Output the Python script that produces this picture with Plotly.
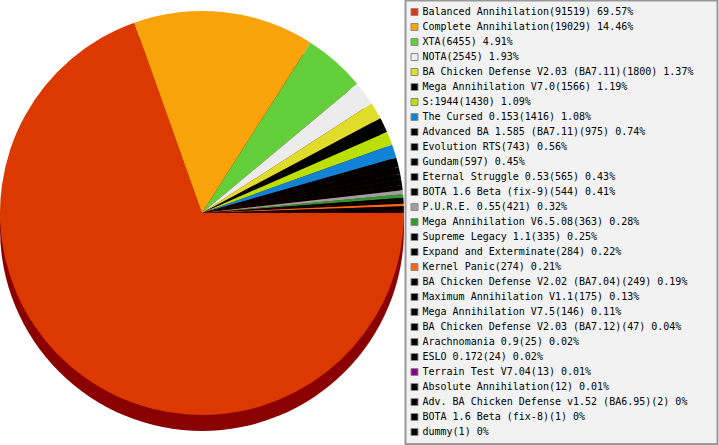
import plotly.graph_objects as go

# mod names and game counts, in pie order
mods = ["Balanced Annihilation", "Complete Annihilation", "XTA", "NOTA",
        "BA Chicken Defense V2.03 (BA7.11)", "Mega Annihilation V7.0", "S:1944",
        "The Cursed 0.153", "Advanced BA 1.585 (BA7.11)", "Evolution RTS", "Gundam",
        "Eternal Struggle 0.53", "BOTA 1.6 Beta (fix-9)", "P.U.R.E. 0.55",
        "Mega Annihilation V6.5.08", "Supreme Legacy 1.1", "Expand and Exterminate",
        "Kernel Panic", "BA Chicken Defense V2.02 (BA7.04)", "Maximum Annihilation V1.1",
        "Mega Annihilation V7.5", "BA Chicken Defense V2.03 (BA7.12)", "Arachnomania 0.9",
        "ESLO 0.172", "Terrain Test V7.04", "Absolute Annihilation",
        "Adv. BA Chicken Defense v1.52 (BA6.95)", "BOTA 1.6 Beta (fix-8)", "dummy"]
games = [91519, 19029, 6455, 2545, 1800, 1566, 1430, 1416, 975, 743, 597,
         565, 544, 421, 363, 335, 284, 274, 249, 175, 146, 47, 25, 24, 13, 12, 2, 1, 1]
colors = ["#dc3900", "#f8a30a", "#63cf3b", "#ececec", "#e0dc2a", "#000000", "#b9e000",
          "#1183d6", "#000000", "#000000", "#000000", "#000000", "#000000", "#a0a0a0",
          "#2e9a2e", "#000000", "#000000", "#ff6611", "#000000", "#000000", "#000000",
          "#000000", "#000000", "#000000", "#880088", "#000000", "#000000", "#000000",
          "#000000"]

total = sum(games)
labels = [f"{m}({g}) {round(g / total * 100, 2):g}%" for m, g in zip(mods, games)]

W, H = 719, 445
r = 202
cx, cy = 202, 213   # pie centre in px from top-left
drop = 16           # shadow offset

fig = go.Figure()

# shadow under the pie
fig.add_trace(go.Pie(values=[1], marker=dict(colors=["#8b0000"]), textinfo="none",
                     hoverinfo="skip", showlegend=False, sort=False,
                     domain=dict(x=[0, 2 * r / W],
                                 y=[(H - cy - drop - r) / H, (H - cy - drop + r) / H])))

fig.add_trace(go.Pie(values=games, labels=mods, marker=dict(colors=colors, line=dict(width=0)),
                     sort=False, direction="clockwise", rotation=90, textinfo="none",
                     showlegend=False,
                     domain=dict(x=[0, 2 * r / W], y=[(H - cy - r) / H, (H - cy + r) / H])))

# hand-made legend, one row every 15px
rows = list(range(len(mods)))
fig.add_trace(go.Scatter(x=[9.5] * len(mods), y=rows, mode="markers",
                         marker=dict(symbol="square", size=7, color=colors,
                                     line=dict(color="#8a8a8a", width=1)),
                         hoverinfo="skip", showlegend=False, cliponaxis=False))
fig.add_trace(go.Scatter(x=[17.5] * len(mods), y=rows, mode="text",
                         text=labels, textposition="middle right",
                         textfont=dict(family="DejaVu Sans Mono", size=10, color="#000000"),
                         hoverinfo="skip", showlegend=False, cliponaxis=False))

fig.update_xaxes(domain=[405 / W, 718 / W], range=[0, 313], visible=False, fixedrange=True)
fig.update_yaxes(domain=[0, 1], range=[(H - 12) / 15, -12 / 15], visible=False, fixedrange=True)

fig.add_shape(type="rect", xref="paper", yref="paper", layer="below",
              x0=405.5 / W, x1=717.5 / W, y0=1 / H, y1=(H - 0.5) / H,
              fillcolor="#f2f2f2", line=dict(color="#999999", width=2))

fig.update_layout(width=W, height=H, autosize=False,
                  margin=dict(l=0, r=0, t=0, b=0),
                  paper_bgcolor="white", plot_bgcolor="rgba(0,0,0,0)")

fig.write_html("out.html", config={"displayModeBar": False},
               post_script="document.body.style.margin='0';")
